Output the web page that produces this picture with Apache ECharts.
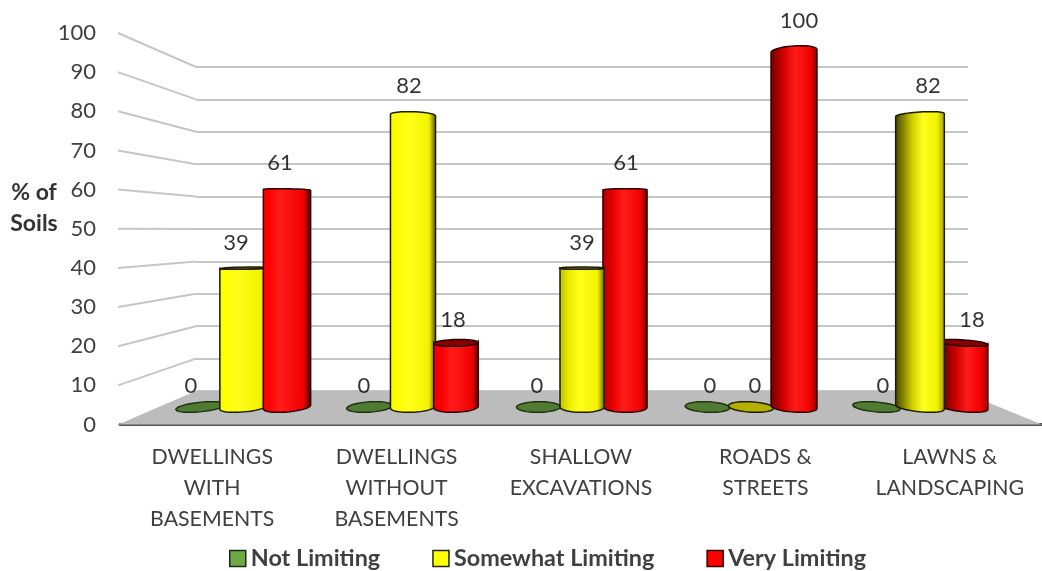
<!DOCTYPE html>
<html>
<head>
<meta charset="utf-8">
<style>html,body{margin:0;padding:0;background:#fff}#chart{width:1042px;height:571px}</style>
<script src="https://cdn.jsdelivr.net/npm/echarts@6/dist/echarts.min.js"></script>
</head>
<body>
<div id="chart"></div>
<script>
// Soil limitation ratings per land use, in percent of soils
const categories = ['DWELLINGS\nWITH\nBASEMENTS', 'DWELLINGS\nWITHOUT\nBASEMENTS', 'SHALLOW\nEXCAVATIONS', 'ROADS &\nSTREETS', 'LAWNS &\nLANDSCAPING'];
const notLimiting = [0, 0, 0, 0, 0];
const somewhatLimiting = [39, 82, 39, 0, 82];
const veryLimiting = [61, 18, 61, 100, 18];
const wallTicks = [10, 20, 30, 40, 50, 60, 70, 80, 90, 100];

const FONT = 'Lato, "Open Sans", sans-serif';
const chart = echarts.init(document.getElementById('chart'));

// Perspective of the scene: vanishing point and depth of a cylinder's ellipse
const VP = [575, 229];
const DEPTH = 0.03;
const RADIUS = 22;

// Grid indices: 0 front edge, 1 plane of the cylinders, 2 back wall, 3 plane of the value labels
function planeRect(g) {
  const a = chart.convertToPixel({xAxisIndex: g, yAxisIndex: g}, [0, 0]);
  const b = chart.convertToPixel({xAxisIndex: g, yAxisIndex: g}, [4, 100]);
  const band = (b[0] - a[0]) / 4;
  return {left: a[0] - band / 2, right: b[0] + band / 2, bottom: a[1], top: b[1]};
}

function mix(rgb, f) {
  return 'rgb(' + rgb.map(c => Math.round(c * (1 - f))).join(',') + ')';
}
const clamp = (v, a, b) => Math.max(a, Math.min(b, v));

// Points along half of a horizontal circle seen in perspective
function arc(cx, cy, from, to) {
  const dx = (cx - VP[0]) * DEPTH, dy = (cy - VP[1]) * DEPTH, pts = [];
  for (let i = 0; i <= 24; i++) {
    const t = from + (to - from) * i / 24;
    pts.push([cx + RADIUS * Math.cos(t) + dx * Math.sin(t), cy + dy * Math.sin(t)]);
  }
  return pts;
}

function cylinder(offset, rgb, zeroCap, cap, edge) {
  return function (params, api) {
    const i = api.value(0), v = api.value(1);
    const base = api.coord([i, 0]), top = api.coord([i, v]);
    const cx = base[0] + offset, by = base[1], ty = top[1];
    const t0 = Math.atan2((cx - VP[0]) * DEPTH, RADIUS);
    const z = Math.round(2000 - Math.abs(cx - VP[0]));
    if (v === 0) {
      const ring = arc(cx, by, 0, Math.PI * 2);
      return {type: 'polygon', z2: 1, shape: {points: ring},
        style: {fill: zeroCap, stroke: edge, lineWidth: 1.5}};
    }
    const lit = (cx - VP[0]) / 350;
    const p = 0.45 + 0.12 * lit;
    const leftShade = clamp(0.25 + 0.5 * lit, 0, 0.75);
    const rightShade = clamp(0.6 - 0.2 * lit, 0, 0.8);
    const body = arc(cx, ty, t0 + Math.PI, t0).concat(arc(cx, by, t0, t0 + Math.PI));
    const children = [{
      type: 'polygon', z2: z, shape: {points: body},
      style: {
        fill: {type: 'linear', x: 0, y: 0, x2: 1, y2: 0, colorStops: [
          {offset: 0, color: mix(rgb, leftShade)},
          {offset: clamp(p - 0.22, 0.05, 1), color: mix(rgb, leftShade * 0.25)},
          {offset: p, color: 'rgb(' + rgb.map(c => Math.max(c, 28)).join(',') + ')'},
          {offset: 0.84, color: mix(rgb, 0.05)},
          {offset: 1, color: mix(rgb, rightShade)}
        ]},
        stroke: edge, lineWidth: 1.5
      }
    }];
    if (ty > VP[1]) {
      children.push({type: 'polygon', z2: z + 1, shape: {points: arc(cx, ty, 0, Math.PI * 2)},
        style: {fill: cap, stroke: edge, lineWidth: 1.5}});
    }
    return {type: 'group', children};
  };
}

function barSeries(name, values, offset, rgb, zeroCap, cap, edge) {
  return {
    name, type: 'custom', coordinateSystem: 'cartesian2d', xAxisIndex: 1, yAxisIndex: 1, z: 5,
    itemStyle: {color: mix(rgb, 0)},
    renderItem: cylinder(offset, rgb, zeroCap, cap, edge),
    data: values.map((v, i) => [i, v])
  };
}

function labelSeries(values, shift) {
  return {
    type: 'scatter', xAxisIndex: 3, yAxisIndex: 3, symbolSize: 0, z: 8, silent: true,
    label: {show: true, position: 'inside', offset: [shift, 0], color: '#000', fontFamily: FONT, fontSize: 22,
      formatter: p => String(p.value[1])},
    data: values.map((v, i) => [i, v])
  };
}

const hiddenX = g => ({type: 'category', gridIndex: g, data: categories, show: false});
const hiddenY = g => ({type: 'value', gridIndex: g, min: 0, max: 100, interval: 10, show: false});

chart.setOption({
  animation: false,
  backgroundColor: '#fff',
  title: {
    text: '% of\nSoils', left: 29, top: 172, textAlign: 'center',
    textStyle: {fontFamily: FONT, fontSize: 23, fontWeight: 'bold', color: '#333', lineHeight: 31}
  },
  legend: {
    left: 224, top: 542, itemWidth: 16, itemHeight: 16, itemGap: 52,
    textStyle: {fontFamily: FONT, fontSize: 23.4, fontWeight: 'bold', color: '#404040'},
    data: [
      {name: 'Not Limiting', icon: 'rect', itemStyle: {color: '#6FA845', borderColor: '#1c2a10', borderWidth: 1.5}},
      {name: 'Somewhat Limiting', icon: 'rect', itemStyle: {color: '#FFFF00', borderColor: '#222', borderWidth: 1.5}},
      {name: 'Very Limiting', icon: 'rect', itemStyle: {color: '#FF0000', borderColor: '#300', borderWidth: 1.5}}
    ]
  },
  grid: [
    {left: 120, width: 922, top: 33, height: 391.5},
    {left: 159.5, width: 845, top: 51, height: 356},
    {left: 196, width: 772, top: 67, height: 324},
    {left: 149.5, width: 865, top: 20.5, height: 365}
  ],
  xAxis: [
    {
      type: 'category', gridIndex: 0, data: categories,
      axisTick: {show: false},
      axisLine: {lineStyle: {color: '#555', width: 3}},
      axisLabel: {fontFamily: FONT, fontSize: 21.3, color: '#404040', lineHeight: 31, margin: 17, interval: 0}
    },
    hiddenX(1), hiddenX(2), hiddenX(3)
  ],
  yAxis: [
    {
      type: 'value', gridIndex: 0, min: 0, max: 100, interval: 10,
      axisLine: {show: false}, axisTick: {show: false}, splitLine: {show: false},
      axisLabel: {fontFamily: FONT, fontSize: 22, color: '#404040', margin: 24, padding: [3, 0, 0, 0]}
    },
    hiddenY(1),
    {
      type: 'value', gridIndex: 2, min: 0, max: 100, interval: 10,
      axisLine: {show: false}, axisTick: {show: false}, axisLabel: {show: false},
      splitLine: {lineStyle: {color: '#c6c6c6', width: 2}}
    },
    hiddenY(3)
  ],
  series: [
    // Floor between the front edge and the back wall
    {
      type: 'custom', coordinateSystem: 'cartesian2d', xAxisIndex: 0, yAxisIndex: 0, z: 1, silent: true,
      data: [[0, 0]],
      renderItem: function () {
        const f = planeRect(0), w = planeRect(2);
        return {type: 'polygon', shape: {points: [[f.left - 2, f.bottom], [w.left, w.bottom], [w.right - 8, w.bottom], [f.right, f.bottom]]},
          style: {fill: '#bcbcbc'}};
      }
    },
    // Left wall: one slanted line per tick, from the front scale to the back wall
    {
      type: 'custom', coordinateSystem: 'cartesian2d', xAxisIndex: 0, yAxisIndex: 0, z: 1, silent: true,
      data: wallTicks.map(v => [0, v]),
      renderItem: function (params, api) {
        const v = api.value(1), f = planeRect(0), w = planeRect(2);
        const front = api.coord([0, v])[1];
        const back = chart.convertToPixel({xAxisIndex: 2, yAxisIndex: 2}, [0, v])[1];
        return {type: 'line', shape: {x1: f.left - 2, y1: front, x2: w.left, y2: back},
          style: {stroke: '#c6c6c6', lineWidth: 2}};
      }
    },
    barSeries('Not Limiting', notLimiting, -43.5, [112, 173, 71], '#4f7b33', '#4f7b33', '#1f3312'),
    barSeries('Somewhat Limiting', somewhatLimiting, 0, [255, 255, 0], '#b5b000', '#7a7a00', '#1c1c00'),
    barSeries('Very Limiting', veryLimiting, 43, [255, 0, 0], '#a00000', '#8a0000', '#2a0000'),
    labelSeries(notLimiting, -45),
    labelSeries(somewhatLimiting, 0),
    labelSeries(veryLimiting, 44)
  ]
});
</script>
</body>
</html>
